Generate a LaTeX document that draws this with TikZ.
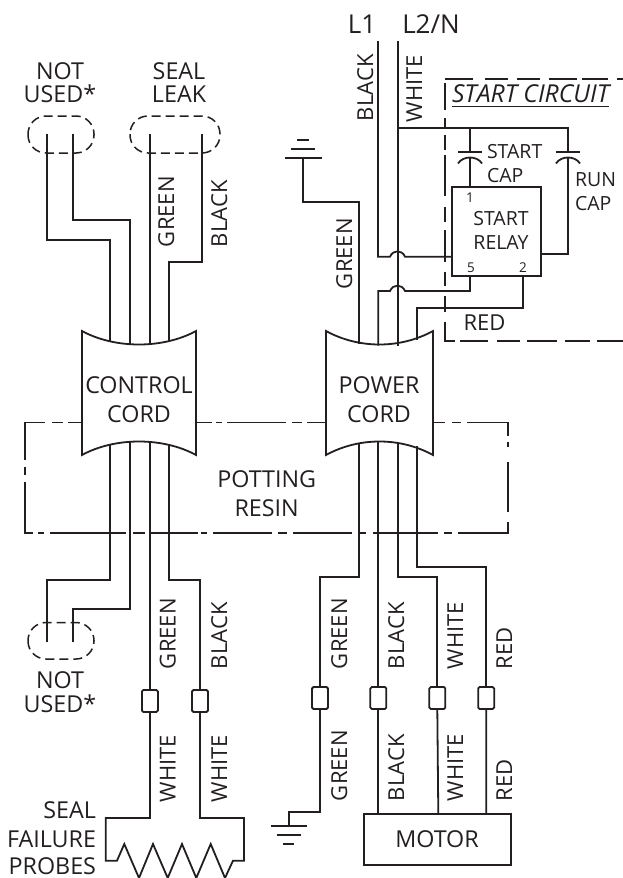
\documentclass[tikz,border=0pt]{standalone}
\usepackage{fontspec}
\setmainfont{Open Sans}
\definecolor{ink}{HTML}{231F20}
\tikzset{
  wire/.style={line width=1.8pt,draw=ink,line join=miter},
  dashline/.style={line width=1.5pt,draw=ink,dash pattern=on 9pt off 5pt},
  boxline/.style={line width=1.8pt,draw=ink},
  lbl/.style={text=ink,font=\fontsize{23.3}{27}\selectfont,inner sep=0pt,outer sep=0pt,anchor=base,align=center},
  vlbl/.style={lbl,font=\fontsize{22}{26}\selectfont,rotate=90,anchor=base west},
  small/.style={lbl,font=\fontsize{19.5}{23}\selectfont},
  pin/.style={lbl,font=\fontsize{13.5}{15}\selectfont},
  conn/.style={boxline,rounded corners=1.5pt,minimum width=16pt,minimum height=22pt,inner sep=0pt,outer sep=0pt},
  rectbox/.style={boxline,inner sep=0pt,outer sep=0pt},
  pot/.style={line width=1.6pt,draw=ink},
}
\begin{document}
\begin{tikzpicture}[x=1pt,y=-1pt]
\useasboundingbox (0,0) rectangle (623,878);
% potting box
\draw[pot] (82,422.5)--(68,422.5) (63,422.5)--(52,422.5) (45,422.5)--(25,422.5)--(25,460) (25,467)--(25,475) (25,482)--(25,533)--(33,533) (38,533)--(44,533) (50,533)--(126,533) (133,533)--(145,533) (150,533)--(198,533) (201,533)--(207,533) (213,533)--(272,533) (278,533)--(287,533) (293,533)--(352,533) (358,533)--(366,533) (373,533)--(438,533) (444,533)--(452,533) (458,533)--(508,533)--(508,522) (508,512)--(508,462) (508,447)--(508,442) (508,436)--(508,422.5)--(467,422.5) (461,422.5)--(452,422.5) (445,422.5)--(433,422.5);
\draw[pot] (196.7,422.5)--(211.7,422.5) (216,422.5)--(221.7,422.5) (227,422.5)--(286,422.5) (291.7,422.5)--(301.7,422.5) (307,422.5)--(326,422.5);
% cords
\draw[boxline,fill=white] (82,331) .. controls (115,349) and (163,349) .. (196,331) -- (196,455) .. controls (163,437) and (115,437) .. (82,455) -- cycle;
\draw[boxline,fill=white] (326,331) .. controls (359,349) and (400,349) .. (433,331) -- (433,455) .. controls (400,437) and (359,437) .. (326,455) -- cycle;
\coordinate (cc1) at (110,342); \coordinate (cc2) at (130,345); \coordinate (cc3) at (149.9,345); \coordinate (cc4) at (169,342);
\coordinate (cb1) at (110,444); \coordinate (cb2) at (130,442); \coordinate (cb3) at (149.9,442); \coordinate (cb4) at (169,444);
\coordinate (pc1) at (359,344); \coordinate (pc2) at (378.3,345.5); \coordinate (pc3) at (398,345.5); \coordinate (pc4) at (417.3,340);
\coordinate (pb1) at (359,443); \coordinate (pb2) at (378.3,442); \coordinate (pb3) at (398,443); \coordinate (pb4) at (417.3,446);
\node[lbl] (ctl) at (139,393) {CONTROL};
\node[lbl] (ctl2) at (139,422) {CORD};
\node[lbl] (pwr) at (379,393) {POWER};
\node[lbl] (pwr2) at (379,422) {CORD};
\node[lbl] (pott) at (266.7,487) {POTTING};
\node[lbl] (resin) at (266.7,516) {RESIN};
% terminals
\draw[dashline,rounded corners=18pt] (28,116) rectangle (94,153);
\draw[dashline,rounded corners=18pt] (130,116) rectangle (220,153);
\draw[dashline,rounded corners=18pt] (28,622.5) rectangle (94,659);
\node[lbl] (nu1) at (60,79) {NOT};
\node[lbl] (nu2) at (60,102) {USED*};
\node[lbl] (sl1) at (179,79) {SEAL};
\node[lbl] (sl2) at (179,102) {LEAK};
\node[lbl] (nu3) at (60,688) {NOT};
\node[lbl] (nu4) at (60,712) {USED*};
% control upper wires
\coordinate (t1) at (47,134); \coordinate (t2) at (73,134); \coordinate (t3) at (149.9,134); \coordinate (t4) at (202,134);
\draw[wire] (t1) |- (110,240) -- (cc1);
\draw[wire] (t2) |- (130,220) -- (cc2);
\draw[wire] (t3) -- (cc3);
\draw[wire] (t4) |- (169,262) -- (cc4);
\node[vlbl] (g1) at (174,247) {GREEN};
\node[vlbl] (b1) at (227,247) {BLACK};
% control lower wires
\coordinate (u1) at (47,642); \coordinate (u2) at (73,642);
\draw[wire] (cb1) |- (47,580) -- (u1);
\draw[wire] (cb2) |- (73,609) -- (u2);
\node[conn] (k1) at (149.9,701) {};
\node[conn] (k2) at (200,701) {};
\draw[wire] (cb3) -- (k1.north);
\draw[wire] (cb4) |- (200,580) -- (k2.north);
\node[vlbl] (g2) at (175.5,669) {GREEN};
\node[vlbl] (b2) at (227,669) {BLACK};
\node[vlbl] (w1) at (175.5,802) {WHITE};
\node[vlbl] (w2) at (227,802) {WHITE};
% probes
\draw[wire] (k1.south) -- (149.9,818) -- (105.7,818) -- (105.7,860.7) -- (117,860.7) -- (124.3,844) -- (139,878) -- (153,844) -- (167.7,878) -- (182,844) -- (196.3,878) -- (210.7,844) -- (225,878) -- (233,860.7) -- (244,860.7) -- (244,818) -- (200,818) -- (k2.south);
\node[lbl,anchor=base east] (s1) at (96,818) {SEAL};
\node[lbl,anchor=base east] (s2) at (96,847) {FAILURE};
\node[lbl,anchor=base east] (s3) at (96,874.5) {PROBES};
% ground lower
\coordinate (gl) at (289,826);
\draw[wire] (270.7,826) -- (306.7,826) (276.7,835) -- (300.7,835) (283,843.7) -- (294,843.7);
% motor wires
\node[conn] (m1) at (320,698) {};
\node[conn] (m2) at (378.3,698) {};
\node[conn] (m3) at (437.3,698) {};
\node[conn] (m4) at (486.2,698) {};
\node[rectbox,minimum width=146.7pt,minimum height=51pt] (motor) at (437.3,839.5) {};
\node[lbl] (mt) at (437,847) {MOTOR};
\draw[wire] (pb1) |- (320,576.7) -- (m1.north);
\draw[wire] (pb2) -- (m2.north);
\draw[wire] (pb3) |- (437.3,576.7) -- (m3.north);
\draw[wire] (pb4) |- (486.2,567.3) -- (m4.north);
\draw[wire] (m1.south) -- (320,812) -- (289,812) -- (gl);
\draw[wire] (m2.south) -- (378.3,814);
\draw[wire] (m3.south) -- (438.3,814);
\draw[wire] (m4.south) -- (486.3,814);
\node[vlbl] (pg1) at (347,669) {GREEN};
\node[vlbl] (pb1l) at (404,669) {BLACK};
\node[vlbl] (pw1) at (463,669) {WHITE};
\node[vlbl] (pr1) at (512,669) {RED};
\node[vlbl] (pg2) at (347,801) {GREEN};
\node[vlbl] (pb2l) at (404,801) {BLACK};
\node[vlbl] (pw2) at (463,801) {WHITE};
\node[vlbl] (pr2) at (512,801) {RED};
% start circuit box
\draw[pot] (445,79) -- (472.7,79) (485,79) -- (508,79) (517,79) -- (540,79) (549,79) -- (577,79) (582,79) -- (608,79) (617,79) -- (623,79);
\draw[pot] (445,83)--(445,110) (445,118)--(445,128) (445,135)--(445,150) (445,155)--(445,196) (445,207)--(445,222) (445,230)--(445,262) (445,272)--(445,286) (445,296)--(445,312) (445,322)--(445,341)--(455,341) (460,341)--(488,341) (497,341)--(520,341) (527,341)--(557,341) (565,341)--(590,341) (597,341)--(623,341);
\node[lbl,font=\fontsize{24.7}{28}\selectfont\itshape,anchor=base west] (sc) at (452,102) {START CIRCUIT};
\draw[wire,line width=1.2pt] (452,106.5) -- (609,106.5);
% relay
\node[rectbox,minimum width=89pt,minimum height=89pt] (rel) at (496.5,231.5) {};
\node[small] (rl1) at (501,225) {START};
\node[small] (rl2) at (501,249) {RELAY};
\node[pin] (p1) at (470,202) {1};
\node[pin] (p5) at (471,272) {5};
\node[pin] (p2) at (523,272) {2};
\node[small,anchor=base west] (c1) at (487,158) {START};
\node[small,anchor=base west] (c2) at (487,182) {CAP};
\node[small,anchor=base west] (c3) at (575,186) {RUN};
\node[small,anchor=base west] (c4) at (575,210) {CAP};
% line
\coordinate (L1t) at (378,41); \coordinate (L2t) at (398,41);
\node[lbl,font=\fontsize{26}{30}\selectfont] (l1) at (362,33) {L1};
\node[lbl,font=\fontsize{26}{30}\selectfont] (l2) at (431,33) {L2/N};
\node[vlbl] (bk) at (373,121) {BLACK};
\node[vlbl] (wh) at (422,122) {WHITE};
\draw[wire] (L2t) -- (pc3);
\draw[wire] (L1t) -- (378,256.7) -- (390,256.7) .. controls (393,249.5) and (402,249.5) .. (405,256.7) -- (rel.west |- 0,256.7);
\draw[wire] (470,276) -- (470,291) -- (405,291) .. controls (402,283.8) and (393,283.8) .. (390,291) -- (378.3,291) -- (pc2);
\draw[wire] (523,276) -- (523,308) -- (417.3,308) -- (pc4);
% caps
\draw[wire] (398,128) -- (568,128) -- (568,152);
\draw[wire] (470,128) -- (470,152);
\draw[wire] (458,152) -- (482,152) (556,152) -- (580,152);
\draw[wire] (458,163.5) .. controls (463,155.5) and (477,155.5) .. (482,163.5);
\draw[wire] (556,163.5) .. controls (561,155.5) and (575,155.5) .. (580,163.5);
\draw[wire] (470,158) -- (470,187);
\draw[wire] (568,158) -- (568,254) -- (541,254);
% ground upper
\draw[wire] (285,157.7) -- (321.7,157.7) (290.7,149) -- (315,149) (297,140) -- (309,140);
\draw[wire] (303.3,157.7) |- (359,202.3) -- (pc1);
\node[vlbl] (g3) at (352,289) {GREEN};
\node[lbl,font=\fontsize{22}{25}\selectfont] (rd) at (484.5,330) {RED};
\end{tikzpicture}
\end{document}
